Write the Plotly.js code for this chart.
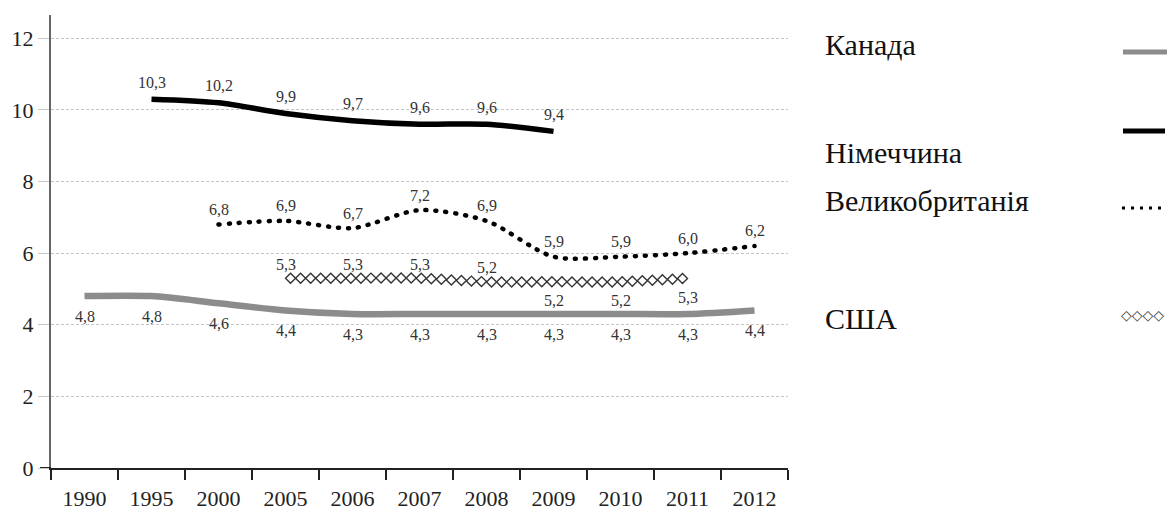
<!DOCTYPE html>
<html>
<head>
<meta charset="utf-8">
<script src="https://cdn.plot.ly/plotly-3.0.1.min.js"></script>
<style>
html,body{margin:0;padding:0;background:#ffffff;}
#chart{width:1170px;height:511px;}
</style>
</head>
<body>
<div id="chart"></div>
<script>
// ---- data ----
const years   = ['1990','1995','2000','2005','2006','2007','2008','2009','2010','2011','2012'];
const canada  = [4.8, 4.8, 4.6, 4.4, 4.3, 4.3, 4.3, 4.3, 4.3, 4.3, 4.4];
const germany = [null, 10.3, 10.2, 9.9, 9.7, 9.6, 9.6, 9.4, null, null, null];
const uk      = [null, null, 6.8, 6.9, 6.7, 7.2, 6.9, 5.9, 5.9, 6.0, 6.2];
const usa     = [null, null, null, 5.3, 5.3, 5.3, 5.2, 5.2, 5.2, 5.3, null];
const yTicks  = [0, 2, 4, 6, 8, 10, 12];
const names   = ['Канада', 'Німеччина', 'Великобританія', 'США'];

// ---- geometry helpers (pixel -> paper) ----
const PL = 51, PR = 788, PT = 15, PB = 468;
const px = x => (x - PL) / (PR - PL);
const py = y => (PB - y) / (PB - PT);

const fmt = v => v.toFixed(1).replace('.', ',');
const labelFont = {family: 'Liberation Serif, serif', size: 16, color: '#333'};

const annotations = [];
function addLabels(series, shiftFn) {
  series.forEach((v, i) => {
    if (v === null) return;
    annotations.push({
      x: i, y: v, xref: 'x', yref: 'y', text: fmt(v), showarrow: false,
      yshift: shiftFn(i), font: labelFont, xanchor: 'center', yanchor: 'middle'
    });
  });
}
addLabels(canada,  () => -20);
addLabels(germany, () => 17);
addLabels(uk,      () => 15);
addLabels(usa,     i => (i >= 7 ? -19 : 14));

// legend texts
const legendFont = {family: 'Liberation Serif, serif', size: 30, color: '#111'};
const legendY = [44, 152, 200, 318];
names.forEach((n, k) => {
  annotations.push({
    x: px(823), y: py(legendY[k]), xref: 'paper', yref: 'paper', text: n,
    showarrow: false, xanchor: 'left', yanchor: 'middle', font: legendFont
  });
});
// legend diamond sample
annotations.push({
  x: px(1119), y: py(315), xref: 'paper', yref: 'paper', text: '◇◇◇◇',
  showarrow: false, xanchor: 'left', yanchor: 'middle',
  font: {family: 'DejaVu Sans', size: 14, color: '#333'}
});

const shapes = [
  {type: 'line', xref: 'paper', yref: 'paper', x0: px(1123), x1: px(1167), y0: py(52), y1: py(52),
   line: {color: '#8c8c8c', width: 5}},
  {type: 'line', xref: 'paper', yref: 'paper', x0: px(1123), x1: px(1165), y0: py(131), y1: py(131),
   line: {color: '#000', width: 5}},
  {type: 'line', xref: 'paper', yref: 'paper', x0: px(1122), x1: px(1167), y0: py(208), y1: py(208),
   line: {color: '#000', width: 3, dash: '3px,6px'}},
  {type: 'line', xref: 'paper', yref: 'y', x0: px(40), x1: 0, y0: 0, y1: 0,
   line: {color: '#222', width: 2}}
];

const data = [
  {x: years, y: canada,  mode: 'lines', line: {color: '#8c8c8c', width: 6.5, shape: 'spline', smoothing: 0.8}, hoverinfo: 'skip'},
  {x: years, y: germany, mode: 'lines', line: {color: '#000', width: 5.5, shape: 'spline', smoothing: 0.8}, hoverinfo: 'skip'},
  {x: years, y: uk,      mode: 'lines', line: {color: '#000', width: 4.5, shape: 'spline', smoothing: 0.8, dash: '1px,9px'}, hoverinfo: 'skip'},
  {x: years, y: usa,     mode: 'lines', line: {color: 'rgba(0,0,0,0)', width: 1, shape: 'spline', smoothing: 0.8}, hoverinfo: 'skip'}
];

const layout = {
  width: 1170, height: 511,
  margin: {l: PL, r: 1170 - PR, t: PT, b: 511 - PB, pad: 0},
  paper_bgcolor: '#fff', plot_bgcolor: '#fff', showlegend: false,
  font: {family: 'Liberation Serif, serif', color: '#222'},
  xaxis: {
    type: 'category', categoryorder: 'array', categoryarray: years, range: [-0.5, 10.5],
    tickson: 'boundaries', ticks: 'outside', ticklen: 10, tickwidth: 2, tickcolor: '#222',
    showline: true, linecolor: '#222', linewidth: 2, showgrid: false, zeroline: false,
    tickfont: {size: 22, color: '#222'}, ticklabelstandoff: 10, fixedrange: true
  },
  yaxis: {
    range: [0, 12.65], tickvals: yTicks, ticktext: yTicks.map(String),
    ticks: 'outside', ticklen: 11, tickwidth: 1, tickcolor: '#c8c8c8',
    showline: true, linecolor: '#666', linewidth: 2,
    showgrid: true, gridcolor: '#c4c4c4', gridwidth: 1, griddash: '3px,2px', zeroline: false,
    tickfont: {size: 22, color: '#222'}, ticklabelstandoff: 0, fixedrange: true
  },
  annotations: annotations,
  shapes: shapes
};

Plotly.newPlot('chart', data, layout, {staticPlot: true, displayModeBar: false}).then(gd => {
  const traces = gd.querySelectorAll('.scatterlayer .trace');
  const ukLine = traces[2] && traces[2].querySelector('.js-line');
  if (ukLine) ukLine.style.strokeLinecap = 'round';
  const usaLine = traces[3] && traces[3].querySelector('.js-line');
  if (usaLine) {
    // decorate the library-drawn USA path with a chain of diamond outlines
    const len = usaLine.getTotalLength();
    const n = Math.round(len / 10.15);
    const step = len / n;
    const h = step / 2, v = 5;
    let d = '';
    for (let k = 0; k < n; k++) {
      const p = usaLine.getPointAtLength(h + k * step);
      d += 'M' + (p.x - h).toFixed(2) + ',' + p.y.toFixed(2) +
           'L' + p.x.toFixed(2) + ',' + (p.y - v).toFixed(2) +
           'L' + (p.x + h).toFixed(2) + ',' + p.y.toFixed(2) +
           'L' + p.x.toFixed(2) + ',' + (p.y + v).toFixed(2) + 'Z';
    }
    const ns = 'http://www.w3.org/2000/svg';
    const path = document.createElementNS(ns, 'path');
    path.setAttribute('d', d);
    path.setAttribute('fill', '#fff');
    path.setAttribute('stroke', '#333');
    path.setAttribute('stroke-width', '1.4');
    usaLine.parentNode.appendChild(path);
  }
});
</script>
</body>
</html>
